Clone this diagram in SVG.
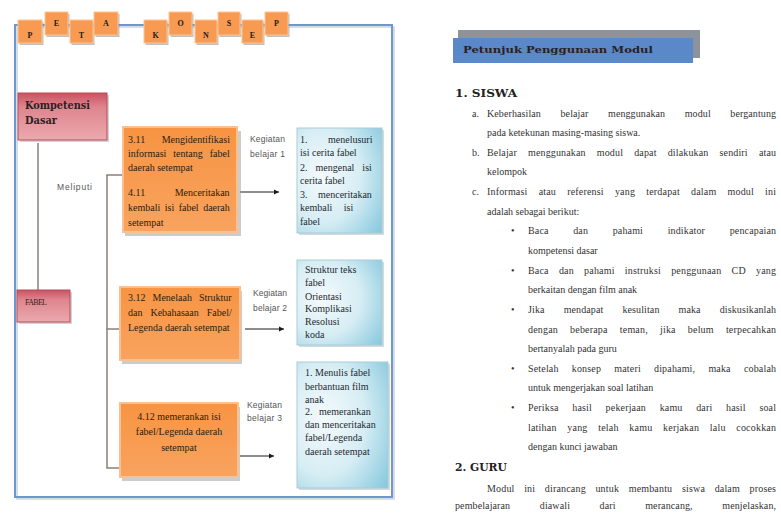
<svg xmlns="http://www.w3.org/2000/svg" width="781" height="513" viewBox="0 0 781 513">
<defs>
<linearGradient id="og" x1="0" y1="0" x2="0" y2="1"><stop offset="0" stop-color="#f79443"/><stop offset="1" stop-color="#f8a35f"/></linearGradient>
<linearGradient id="rg" x1="0" y1="0" x2="0" y2="1"><stop offset="0" stop-color="#c95260"/><stop offset="0.3" stop-color="#df858e"/><stop offset="1" stop-color="#eba9ae"/></linearGradient>
<radialGradient id="bg" cx="0.3" cy="0.45" r="0.9"><stop offset="0" stop-color="#f4fafc"/><stop offset="0.5" stop-color="#d6edf4"/><stop offset="1" stop-color="#82c6dc"/></radialGradient>
<marker id="ah" markerWidth="6" markerHeight="6" refX="5" refY="3" orient="auto" markerUnits="userSpaceOnUse"><path d="M0,0.5 L5,3 L0,5.5 Z" fill="#1a1a1a"/></marker>
</defs>
<style>
.frame{fill:none;stroke:#7096cb;stroke-width:2}
.frs{fill:none;stroke:#c9d2de;stroke-width:1.5}
.lb{fill:#f89a52;stroke:#fbc596;stroke-width:1}
.lbs{fill:#8c8c8c;opacity:.55}
.lt{font-family:"Liberation Serif",serif;font-weight:bold;font-size:8px;fill:#1a1a1a;text-anchor:middle}
.ob{fill:url(#og);stroke:#fbc08f;stroke-width:2}
.obs{fill:#9a9a9a;opacity:.5}
.rb{fill:url(#rg);stroke:#b84d58;stroke-width:1}
.bb{fill:url(#bg);stroke:#a9cbd8;stroke-width:1}
.bbs{fill:#9ab0b8;opacity:.45}
.ot{font-family:"Liberation Serif",serif;font-size:10px;fill:#2a1d10}
.bt{font-family:"Liberation Serif",serif;font-size:10px;fill:#1e2a30}
.hd{font-family:"DejaVu Serif",serif;font-weight:bold;fill:#2a1f22}
.kl{font-family:"Liberation Sans",sans-serif;font-size:8.5px;fill:#555}
.conn{stroke:#8a8078;stroke-width:1.5;fill:none}
.arr{stroke:#1a1a1a;stroke-width:1;fill:none;marker-end:url(#ah)}
.pt{font-family:"Liberation Serif",serif;font-size:10px;fill:#333}
.ph{font-family:"DejaVu Serif",serif;font-weight:bold;font-size:11px;fill:#222}
</style>
<rect width="781" height="513" fill="#ffffff"/>

<!-- frame -->
<g id="frame">
<rect class="frs" x="17" y="27" width="377" height="472"/>
<rect class="frame" x="15" y="25" width="377" height="472"/>
</g>

<!-- title letters -->
<g id="title">
<g id="l1"><rect class="lbs" x="19.5" y="22" width="24" height="23"/><rect class="lb" x="18" y="20" width="24" height="23"/><text class="lt" x="30" y="38">P</text></g>
<g id="l2"><rect class="lbs" x="46.5" y="14" width="23" height="23"/><rect class="lb" x="45" y="12" width="23" height="23"/><text class="lt" x="56.5" y="26">E</text></g>
<g id="l3"><rect class="lbs" x="71.5" y="22" width="23" height="23"/><rect class="lb" x="70" y="20" width="23" height="23"/><text class="lt" x="81.5" y="38">T</text></g>
<g id="l4"><rect class="lbs" x="95.5" y="14" width="24" height="23"/><rect class="lb" x="94" y="12" width="24" height="23"/><text class="lt" x="106" y="26">A</text></g>
<g id="l5"><rect class="lbs" x="145.5" y="22" width="23" height="23"/><rect class="lb" x="144" y="20" width="23" height="23"/><text class="lt" x="155.5" y="38">K</text></g>
<g id="l6"><rect class="lbs" x="170.5" y="14" width="23" height="23"/><rect class="lb" x="169" y="12" width="23" height="23"/><text class="lt" x="180.5" y="26">O</text></g>
<g id="l7"><rect class="lbs" x="196.5" y="22" width="22" height="23"/><rect class="lb" x="195" y="20" width="22" height="23"/><text class="lt" x="206" y="38">N</text></g>
<g id="l8"><rect class="lbs" x="219.5" y="14" width="22" height="23"/><rect class="lb" x="218" y="12" width="22" height="23"/><text class="lt" x="229" y="26">S</text></g>
<g id="l9"><rect class="lbs" x="243.5" y="22" width="21" height="23"/><rect class="lb" x="242" y="20" width="21" height="23"/><text class="lt" x="252.5" y="38">E</text></g>
<g id="l10"><rect class="lbs" x="266.5" y="14" width="23" height="23"/><rect class="lb" x="265" y="12" width="23" height="23"/><text class="lt" x="276.5" y="26">P</text></g>
</g>

<!-- connectors -->
<g id="connectors">
<line class="conn" x1="38" y1="143" x2="38" y2="290"/>
<line class="conn" x1="107" y1="175" x2="107" y2="468"/>
<line class="conn" x1="106.3" y1="175" x2="123" y2="175"/>
<line class="conn" x1="106.3" y1="329" x2="120" y2="329"/>
<line class="conn" x1="106.3" y1="468" x2="119" y2="468"/>
<line class="arr" x1="240" y1="192" x2="279" y2="192"/>
<line class="arr" x1="245" y1="329" x2="284" y2="329"/>
<line class="arr" x1="240" y1="456" x2="274" y2="456"/>
</g>

<g id="meliputi"><text class="kl" x="57" y="190" textLength="35">Meliputi</text></g>

<g id="kd">
<rect x="20" y="95" width="89" height="47" fill="#a9a9a9" opacity=".5"/>
<rect class="rb" x="18" y="93" width="89" height="47"/>
<text class="hd" x="25" y="109" font-size="10.5" textLength="65" lengthAdjust="spacingAndGlyphs">Kompetensi</text>
<text class="hd" x="25" y="124" font-size="10.5" textLength="32" lengthAdjust="spacingAndGlyphs">Dasar</text>
</g>

<g id="fabel">
<rect x="19" y="292" width="53" height="32" fill="#a9a9a9" opacity=".5"/>
<rect class="rb" x="17" y="290" width="53" height="32"/>
<text x="25" y="305" font-family="Liberation Serif, serif" font-size="8" fill="#3a1d20" textLength="22">FABEL</text>
</g>

<g id="ob1">
<rect class="obs" x="125" y="131" width="116" height="105"/>
<rect class="ob" x="123" y="127" width="114" height="105"/>
<text class="ot" x="128" y="143" word-spacing="14">3.11 Mengidentifikasi</text>
<text class="ot" x="128" y="157" word-spacing="4.5">informasi tentang fabel</text>
<text class="ot" x="128" y="171">daerah setempat</text>
<text class="ot" x="128" y="196" word-spacing="27">4.11 Menceritakan</text>
<text class="ot" x="128" y="211" word-spacing="2">kembali isi fabel daerah</text>
<text class="ot" x="128" y="226">setempat</text>
</g>

<g id="ob2">
<rect class="obs" x="122" y="291" width="120" height="73"/>
<rect class="ob" x="120" y="287" width="120" height="73"/>
<text class="ot" x="128" y="301" word-spacing="4.5">3.12 Menelaah Struktur</text>
<text class="ot" x="128" y="316" word-spacing="5.5">dan Kebahasaan Fabel/</text>
<text class="ot" x="128" y="331">Legenda daerah setempat</text>
</g>

<g id="ob3">
<rect class="obs" x="122" y="407" width="118" height="74"/>
<rect class="ob" x="120" y="403" width="118" height="74"/>
<text class="ot" x="179" y="420" text-anchor="middle">4.12 memerankan isi</text>
<text class="ot" x="179" y="435" text-anchor="middle">fabel/Legenda daerah</text>
<text class="ot" x="179" y="451" text-anchor="middle">setempat</text>
</g>

<g id="kb1"><text class="kl" x="250" y="142" textLength="35">Kegiatan</text><text class="kl" x="250" y="157" textLength="35">belajar 1</text></g>
<g id="kb2"><text class="kl" x="253" y="296" textLength="34">Kegiatan</text><text class="kl" x="253" y="311" textLength="34">belajar 2</text></g>
<g id="kb3"><text class="kl" x="247" y="408" textLength="35">Kegiatan</text><text class="kl" x="247" y="421" textLength="35">belajar 3</text></g>

<g id="bb1">
<rect class="bbs" x="299" y="130" width="85" height="105"/>
<rect class="bb" x="297" y="128" width="85" height="105"/>
<text class="bt" x="300" y="143" word-spacing="18">1. menelusuri</text>
<text class="bt" x="300" y="156">isi cerita fabel</text>
<text class="bt" x="300" y="171" word-spacing="5.5">2. mengenal isi</text>
<text class="bt" x="300" y="184">cerita fabel</text>
<text class="bt" x="300" y="198" word-spacing="8">3. menceritakan</text>
<text class="bt" x="300" y="211" word-spacing="9">kembali isi</text>
<text class="bt" x="300" y="225">fabel</text>
</g>

<g id="bb2">
<rect class="bbs" x="299" y="262" width="85" height="85"/>
<rect class="bb" x="297" y="260" width="85" height="85"/>
<text class="bt" x="305" y="273">Struktur teks</text>
<text class="bt" x="305" y="286">fabel</text>
<text class="bt" x="305" y="300">Orientasi</text>
<text class="bt" x="305" y="312">Komplikasi</text>
<text class="bt" x="305" y="325">Resolusi</text>
<text class="bt" x="305" y="338">koda</text>
</g>

<g id="bb3">
<rect class="bbs" x="299" y="364" width="91" height="126"/>
<rect class="bb" x="297" y="362" width="91" height="126"/>
<text class="bt" x="305" y="376">1. Menulis fabel</text>
<text class="bt" x="305" y="390">berbantuan film</text>
<text class="bt" x="305" y="403">anak</text>
<text class="bt" x="305" y="415" word-spacing="4">2. memerankan</text>
<text class="bt" x="305" y="428">dan menceritakan</text>
<text class="bt" x="305" y="441">fabel/Legenda</text>
<text class="bt" x="305" y="455">daerah setempat</text>
</g>

<!-- right page -->
<g id="heading">
<rect x="458" y="30" width="242" height="28" fill="#8d939c"/>
<rect x="453" y="38" width="240" height="25" fill="#5b88c9"/>
<text class="hd" x="463" y="53" font-size="10" fill="#17223a" textLength="190" lengthAdjust="spacingAndGlyphs">Petunjuk Penggunaan Modul</text>
</g>

<g id="page">
<text class="ph" x="455" y="97" textLength="62" lengthAdjust="spacingAndGlyphs">1. SISWA</text>
<text class="pt" x="472" y="117">a.</text>
<text class="pt" x="487" y="117" word-spacing="17" textLength="289">Keberhasilan belajar menggunakan modul bergantung</text>
<text class="pt" x="487" y="136">pada ketekunan masing-masing siswa.</text>
<text class="pt" x="472" y="156">b.</text>
<text class="pt" x="487" y="156" word-spacing="8.5" textLength="289">Belajar menggunakan modul dapat dilakukan sendiri atau</text>
<text class="pt" x="487" y="175">kelompok</text>
<text class="pt" x="472" y="195">c.</text>
<text class="pt" x="487" y="195" word-spacing="8.5" textLength="289">Informasi atau referensi yang terdapat dalam modul ini</text>
<text class="pt" x="487" y="215">adalah sebagai berikut:</text>
<text class="pt" x="511" y="234">•</text>
<text class="pt" x="528" y="234" word-spacing="22" textLength="248">Baca dan pahami indikator pencapaian</text>
<text class="pt" x="528" y="254">kompetensi dasar</text>
<text class="pt" x="511" y="274">•</text>
<text class="pt" x="528" y="274" word-spacing="7.5" textLength="248">Baca dan pahami instruksi penggunaan CD yang</text>
<text class="pt" x="528" y="293">berkaitan dengan film anak</text>
<text class="pt" x="511" y="313">•</text>
<text class="pt" x="528" y="313" word-spacing="16.5" textLength="248">Jika mendapat kesulitan maka diskusikanlah</text>
<text class="pt" x="528" y="333" word-spacing="9.5" textLength="248">dengan beberapa teman, jika belum terpecahkan</text>
<text class="pt" x="528" y="352">bertanyalah pada guru</text>
<text class="pt" x="511" y="372">•</text>
<text class="pt" x="528" y="372" word-spacing="10.5" textLength="248">Setelah konsep materi dipahami, maka cobalah</text>
<text class="pt" x="528" y="391">untuk mengerjakan soal latihan</text>
<text class="pt" x="511" y="411">•</text>
<text class="pt" x="528" y="411" word-spacing="11" textLength="248">Periksa hasil pekerjaan kamu dari hasil soal</text>
<text class="pt" x="528" y="431" word-spacing="8" textLength="248">latihan yang telah kamu kerjakan lalu cocokkan</text>
<text class="pt" x="528" y="450">dengan kunci jawaban</text>
<text class="ph" x="455" y="471" textLength="52" lengthAdjust="spacingAndGlyphs">2. GURU</text>
<text class="pt" x="487" y="492" word-spacing="7" textLength="289">Modul ini dirancang untuk membantu siswa dalam proses</text>
<text class="pt" x="455" y="509" word-spacing="27" textLength="321">pembelajaran diawali dari merancang, menjelaskan,</text>
</g>
</svg>
